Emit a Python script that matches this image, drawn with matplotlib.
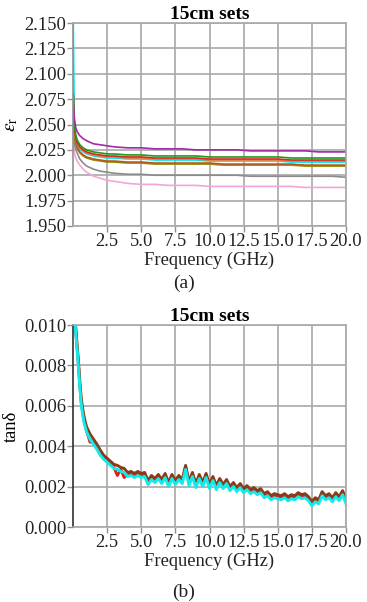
import numpy as np
import matplotlib
matplotlib.use("Agg")
import matplotlib.pyplot as plt

plt.rcParams['font.family'] = ['Liberation Serif', 'DejaVu Serif']
plt.rcParams['mathtext.fontset'] = 'stix'

# ---------------- data: (a) relative permittivity ----------------
freq_er = [0.02, 0.1, 0.2, 0.3, 0.5, 0.75, 1.0, 1.5, 2.0, 2.5, 3, 4, 5, 6, 7, 8, 9,
           10, 11, 12, 13, 14, 15, 16, 17, 18, 19, 20]
er_purple = [2.070, 2.056, 2.047, 2.043, 2.039, 2.036, 2.034, 2.031, 2.030, 2.029, 2.028, 2.027, 2.027, 2.026,
             2.026, 2.026, 2.025, 2.025, 2.025, 2.025, 2.024, 2.024, 2.024, 2.024, 2.024, 2.023, 2.023, 2.023]
er_green = [2.080, 2.048, 2.040, 2.035, 2.030, 2.027, 2.025, 2.023, 2.022, 2.021, 2.021, 2.020, 2.020, 2.019,
            2.019, 2.019, 2.019, 2.018, 2.018, 2.018, 2.018, 2.018, 2.018, 2.017, 2.017, 2.017, 2.017, 2.017]
er_red = [2.080, 2.045, 2.037, 2.032, 2.028, 2.025, 2.023, 2.021, 2.020, 2.019, 2.019, 2.018, 2.018, 2.017,
          2.017, 2.017, 2.017, 2.016, 2.016, 2.016, 2.016, 2.016, 2.016, 2.015, 2.015, 2.015, 2.015, 2.015]
er_orange = [2.078, 2.044, 2.036, 2.031, 2.027, 2.024, 2.022, 2.020, 2.019, 2.018, 2.018, 2.017, 2.017, 2.016,
             2.016, 2.016, 2.016, 2.015, 2.015, 2.015, 2.015, 2.015, 2.015, 2.014, 2.014, 2.014, 2.014, 2.014]
er_cyan = [2.150, 2.046, 2.036, 2.031, 2.026, 2.023, 2.021, 2.019, 2.018, 2.017, 2.017, 2.016, 2.016, 2.015,
           2.015, 2.015, 2.015, 2.014, 2.014, 2.014, 2.014, 2.014, 2.014, 2.013, 2.013, 2.013, 2.013, 2.013]
er_brown = [2.070, 2.040, 2.032, 2.028, 2.023, 2.020, 2.018, 2.016, 2.015, 2.014, 2.014, 2.013, 2.013, 2.012,
            2.012, 2.012, 2.012, 2.012, 2.011, 2.011, 2.011, 2.011, 2.011, 2.011, 2.010, 2.010, 2.010, 2.010]
er_olive = [2.068, 2.039, 2.031, 2.027, 2.022, 2.019, 2.017, 2.015, 2.014, 2.013, 2.013, 2.012, 2.012, 2.011,
            2.011, 2.011, 2.011, 2.011, 2.010, 2.010, 2.010, 2.010, 2.010, 2.010, 2.009, 2.009, 2.009, 2.009]
er_gray = [2.060, 2.032, 2.026, 2.022, 2.016, 2.012, 2.009, 2.006, 2.004, 2.003, 2.002, 2.001, 2.001, 2.000,
           2.000, 2.000, 2.000, 2.000, 2.000, 2.000, 1.999, 1.999, 1.999, 1.999, 1.999, 1.999, 1.999, 1.998]
er_pink = [2.050, 2.022, 2.017, 2.014, 2.010, 2.006, 2.003, 1.999, 1.997, 1.995, 1.994, 1.992, 1.991, 1.991,
           1.990, 1.990, 1.990, 1.989, 1.989, 1.989, 1.989, 1.989, 1.989, 1.989, 1.988, 1.988, 1.988, 1.988]

er_series = [
    (er_pink, '#f2a6d6'), (er_gray, '#8c8c8c'), (er_olive, '#9a8a10'), (er_brown, '#b05a20'),
    (er_cyan, '#00e8e8'), (er_orange, '#f07a30'), (er_red, '#d82828'), (er_green, '#1f9a1f'),
    (er_purple, '#a02aa8'),
]

# ---------------- data: (b) loss tangent (values in units of 1e-3) ----------------
freq_tan = [0.05, 0.1, 0.2, 0.3, 0.4, 0.5, 0.6, 0.7, 0.8, 0.9, 1.0, 1.25, 1.5, 1.75,
            2.0, 2.25, 2.5, 2.75, 3.0, 3.25, 3.5, 3.75, 4.0, 4.25, 4.5, 4.75,
            5.0, 5.25, 5.5, 5.75, 6.0, 6.25, 6.5, 6.75, 7.0, 7.25, 7.5, 7.75,
            8.0, 8.25, 8.5, 8.75, 9.0, 9.25, 9.5, 9.75, 10.0, 10.25, 10.5, 10.75,
            11.0, 11.25, 11.5, 11.75, 12.0, 12.25, 12.5, 12.75, 13.0, 13.25, 13.5, 13.75,
            14.0, 14.25, 14.5, 14.75, 15.0, 15.25, 15.5, 15.75, 16.0, 16.25, 16.5, 16.75,
            17.0, 17.25, 17.5, 17.75, 18.0, 18.25, 18.5, 18.75, 19.0, 19.25, 19.5, 19.75, 20.0]
tan_brown_e3 = [12.0, 11.0, 9.9, 9.0, 8.2, 7.2, 6.4, 5.9, 5.5, 5.2, 4.95, 4.6, 4.35, 4.1,
                3.8, 3.55, 3.4, 3.25, 3.1, 3.05, 2.95, 2.9, 2.7, 2.75, 2.65, 2.75,
                2.65, 2.7, 2.3, 2.55, 2.4, 2.6, 2.35, 2.65, 2.2, 2.6, 2.3, 2.55,
                2.35, 3.05, 2.25, 2.7, 2.15, 2.6, 2.2, 2.65, 2.1, 2.5, 2.05, 2.4,
                2.1, 2.35, 2.0, 2.2, 1.95, 2.15, 1.9, 2.05, 1.85, 1.95, 1.8, 1.9,
                1.65, 1.75, 1.55, 1.65, 1.6, 1.55, 1.65, 1.5, 1.6, 1.55, 1.7, 1.6,
                1.65, 1.5, 1.25, 1.45, 1.35, 1.75, 1.55, 1.65, 1.45, 1.7, 1.5, 1.8, 1.4]
tan_red_e3 = [12.0, 10.9, 9.7, 8.9, 8.0, 7.0, 6.2, 5.7, 5.3, 5.0, 4.75, 4.2, 4.2, 3.9,
              3.6, 3.4, 3.25, 3.1, 2.95, 2.55, 2.85, 2.45, 2.6, 2.6, 2.55, 2.65,
              2.55, 2.6, 2.15, 2.45, 2.3, 2.5, 2.25, 2.55, 2.1, 2.5, 2.2, 2.45,
              2.25, 2.95, 2.15, 2.6, 2.05, 2.5, 2.1, 2.55, 2.0, 2.4, 1.95, 2.3,
              2.0, 2.25, 1.9, 2.1, 1.85, 2.05, 1.8, 1.95, 1.75, 1.85, 1.7, 1.8,
              1.55, 1.65, 1.45, 1.55, 1.5, 1.45, 1.55, 1.4, 1.5, 1.45, 1.6, 1.5,
              1.55, 1.4, 1.15, 1.35, 1.25, 1.65, 1.45, 1.55, 1.35, 1.6, 1.4, 1.7, 1.3]
tan_cyan_e3 = [12.0, 10.8, 9.6, 8.8, 7.9, 6.9, 6.1, 5.6, 5.2, 4.95, 4.7, 4.35, 4.1, 3.85,
               3.55, 3.35, 3.2, 3.05, 2.9, 2.85, 2.75, 2.7, 2.5, 2.55, 2.45, 2.55,
               2.45, 2.5, 2.1, 2.35, 2.2, 2.4, 2.15, 2.45, 2.0, 2.4, 2.1, 2.35,
               2.15, 2.85, 2.05, 2.5, 1.95, 2.4, 2.0, 2.45, 1.9, 2.3, 1.85, 2.2,
               1.9, 2.15, 1.8, 2.0, 1.75, 1.95, 1.7, 1.85, 1.65, 1.75, 1.6, 1.7,
               1.45, 1.55, 1.35, 1.45, 1.4, 1.35, 1.45, 1.3, 1.4, 1.35, 1.5, 1.4,
               1.45, 1.3, 1.05, 1.25, 1.15, 1.55, 1.35, 1.45, 1.25, 1.5, 1.3, 1.6, 1.15]

tan_series = [(tan_red_e3, '#e02020'), (tan_brown_e3, '#8b3a1a'), (tan_cyan_e3, '#10ecec')]

x_ticks = [2.5, 5.0, 7.5, 10.0, 12.5, 15.0, 17.5, 20.0]
er_ticks = [1.950, 1.975, 2.000, 2.025, 2.050, 2.075, 2.100, 2.125, 2.150]
tan_ticks = [0.000, 0.002, 0.004, 0.006, 0.008, 0.010]

# ---------------- figure ----------------
W, H = 367, 602
fig = plt.figure(figsize=(W / 100, H / 100), dpi=100)
fig.patch.set_facecolor('white')

ax1 = fig.add_axes([73 / W, 1 - 226 / H, 273 / W, 203 / H])
ax2 = fig.add_axes([73 / W, 1 - 527 / H, 273 / W, 202 / H])

grid_c = '#a8a8a8'

def style(ax, yticks, fmt, left_col):
    ax.set_xlim(0, 20)
    ax.set_xticks(x_ticks)
    ax.set_xticklabels(['%.1f' % v for v in x_ticks])
    ax.set_yticks(yticks)
    ax.set_yticklabels([fmt % v for v in yticks])
    ax.grid(True, color=grid_c, linewidth=1.2)
    ax.set_axisbelow(True)
    for s in ['top', 'right', 'bottom']:
        ax.spines[s].set_color(grid_c)
        ax.spines[s].set_linewidth(1.2)
    ax.spines['left'].set_color(left_col)
    ax.spines['left'].set_linewidth(1.2)
    ax.tick_params(axis='both', direction='out', length=4, width=1.0, color='#909090',
                   labelsize=13.3, pad=1, labelcolor='#222222')
    ax.set_xlabel('Frequency (GHz)', fontsize=13.3, labelpad=1, color='#222222')
    ax.set_title('15cm sets', fontsize=14, fontweight='bold', pad=3)

style(ax1, er_ticks, '%.3f', '#909090')
ax1.set_ylim(1.950, 2.150)
for vals, col in er_series:
    ax1.plot(freq_er, vals, color=col, linewidth=1.2, clip_on=True)
ax1.set_ylabel(r'$\varepsilon_{\mathrm{r}}$', fontsize=14, labelpad=3)

style(ax2, tan_ticks, '%.3f', '#303030')
ax2.set_ylim(0.0, 0.010)
for vals, col in tan_series:
    ax2.plot(freq_tan, np.array(vals) * 1e-3, color=col, linewidth=2.1)
ax2.set_ylabel('tanδ', fontsize=13.3, labelpad=3)

fig.text(183.5 / W, 1 - 283 / H, '(a)', ha='center', va='center', fontsize=14, color='#222222')
fig.text(183.5 / W, 1 - 592 / H, '(b)', ha='center', va='center', fontsize=14, color='#222222')

fig.savefig('out.png', dpi=100, facecolor='white')
